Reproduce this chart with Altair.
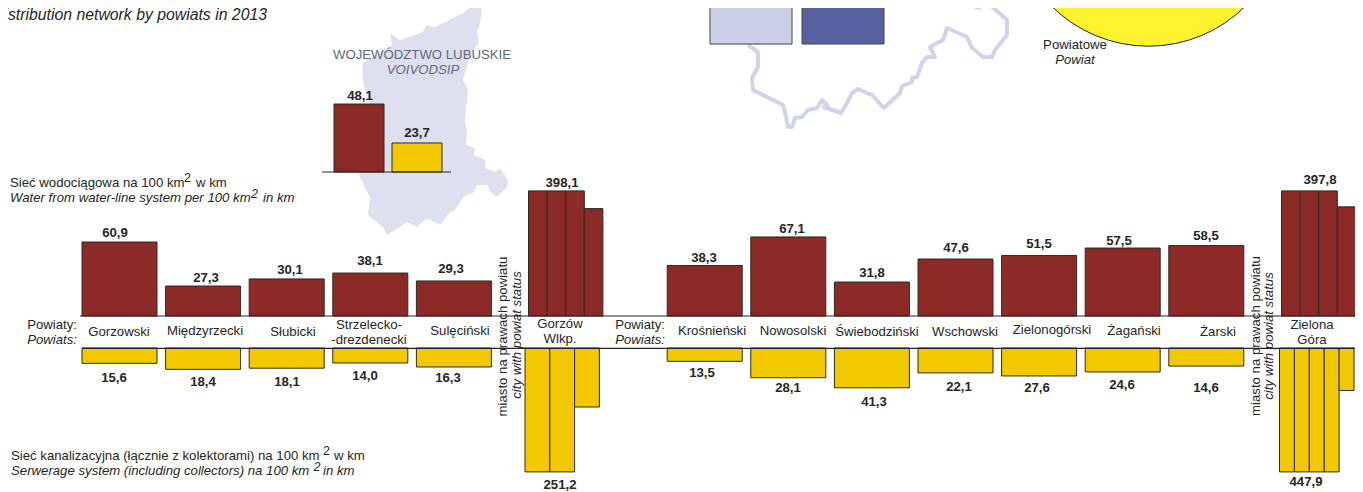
import altair as alt
import pandas as pd

# ---- data ----
districts_left = ["Gorzowski", "Międzyrzecki", "Słubicki", "Strzelecko-\n-drezdenecki", "Sulęciński"]
districts_right = ["Krośnieński", "Nowosolski", "Świebodziński", "Wschowski", "Zielonogórski", "Żagański", "Żarski"]
water_labels = [60.9, 27.3, 30.1, 38.1, 29.3, 38.3, 67.1, 31.8, 47.6, 51.5, 57.5, 58.5]
sewer_labels = [15.6, 18.4, 18.1, 14.0, 16.3, 13.5, 28.1, 41.3, 22.1, 27.6, 24.6, 14.6]
# lengths of the bars as drawn in the picture (the original drawing is not strictly to scale)
water_drawn = [62.7, 25.4, 31.4, 36.4, 29.7, 42.8, 67.0, 28.8, 48.3, 51.3, 57.6, 59.7]
sewer_drawn = [13.0, 18.1, 17.1, 12.7, 16.1, 11.3, 25.2, 33.7, 21.1, 23.7, 20.3, 15.3]
gorzow_water = [106, 106, 106, 91]
zielona_water = [106, 106, 106, 92.5]
gorzow_sewer = [105, 105, 50]
zielona_sewer = [105, 105, 105, 105, 36]
voivodship_labels = [48.1, 23.7]
voivodship_drawn = [57.6, 24.6]

W, H = 1347, 484
OFF = 8
UNIT = 1.18
STEP = 83.6
SLOTS = list(range(5)) + list(range(7, 14))
BAR_W = 75 / STEP

RED = "#8c2a27"
YEL = "#f2c800"
EDGE = "#2e2a22"
TXT = "#262626"
FONT = "Liberation Sans"
SIZE = 13.2

fmt = lambda v: f"{v:.1f}".replace(".", ",")


def slot_scale(origin, step):
    return alt.Scale(domain=[(OFF - origin) / step, (OFF + W - origin) / step], range=[0, W], nice=False, zero=False)


def value_scale(base_y, direction):
    return alt.Scale(domain=[0, 100], range=[base_y - OFF, base_y - OFF + direction * 100 * UNIT], nice=False, zero=False)


def bars(df, xs, ys, color):
    return alt.Chart(df).mark_rect(fill=color, stroke=EDGE, strokeWidth=1).encode(
        x=alt.X("x0:Q", scale=xs, axis=None),
        x2="x1:Q",
        y=alt.Y("v:Q", scale=ys, axis=None),
        y2="b:Q",
    )


def value_labels(df):
    return alt.Chart(df).mark_text(font=FONT, fontSize=SIZE, fontWeight="bold", color=TXT).encode(
        x=alt.X("lx:Q", scale=PX_X, axis=None),
        y=alt.Y("ly:Q", scale=PX_Y, axis=None),
        text="t:N",
    )


def txt(s, x, y, align="left", italic=False, bold=False, size=SIZE, color=TXT, angle=None):
    kw = dict(text=s, font=FONT, fontSize=size, align=align, baseline="middle", color=color)
    if italic:
        kw["fontStyle"] = "italic"
    if bold:
        kw["fontWeight"] = "bold"
    if angle is not None:
        kw["angle"] = angle
    return alt.Chart(alt.Data(values=[{}])).mark_text(**kw).encode(x=alt.value(x - OFF), y=alt.value(y - OFF))


PX_X = alt.Scale(domain=[OFF, OFF + W], range=[0, W], nice=False, zero=False)
PX_Y = alt.Scale(domain=[OFF, OFF + H], range=[0, H], nice=False, zero=False)

# ---- label placement in the picture ----
water_lx = [115, 206, 290, 370, 451, 704, 792, 872, 956, 1039, 1119, 1206]
water_ly = [233, 278, 270, 261, 269, 258, 229, 273, 248, 244, 241, 236]
sewer_lx = [114, 203, 287, 365, 448, 702, 788, 874, 959, 1037, 1122, 1206]
sewer_ly = [378, 382, 382, 376, 378, 373, 388, 402, 387, 388, 385, 388]
district_lx = [119, 205, 293, 369, 460, 712, 793, 877, 965, 1052, 1134, 1218]
district_ly = [332, 331, 332, 325, 331, 331, 331, 332, 332, 330, 331, 332]

water_df = pd.DataFrame({"x0": SLOTS, "x1": [s + BAR_W for s in SLOTS], "v": water_drawn, "b": 0})
sewer_df = pd.DataFrame({"x0": SLOTS, "x1": [s + BAR_W for s in SLOTS], "v": sewer_drawn, "b": 0})


def columns(values, start_px, step_px):
    return pd.DataFrame({
        "x0": [start_px + i * step_px for i in range(len(values))],
        "x1": [start_px + (i + 1) * step_px for i in range(len(values))],
        "v": values, "b": 0})


main_x = slot_scale(82, STEP)
water_y = value_scale(316, -1)
sewer_y = value_scale(348, 1)

wl_df = pd.DataFrame({"lx": water_lx + [562, 1320], "ly": water_ly + [183, 180],
                      "t": [fmt(v) for v in water_labels] + ["398,1", "397,8"]})
sl_df = pd.DataFrame({"lx": sewer_lx + [560, 1306], "ly": sewer_ly + [485, 482],
                      "t": [fmt(v) for v in sewer_labels] + ["251,2", "447,9"]})
vl_df = pd.DataFrame({"lx": [360, 417], "ly": [96, 133], "t": [fmt(v) for v in voivodship_labels]})

name_df = pd.DataFrame({"lx": district_lx + [560, 1312], "ly": district_ly + [324, 325],
                        "t": districts_left + districts_right + ["Gorzów\nWlkp.", "Zielona\nGóra"]})
names = alt.Chart(name_df).mark_text(font=FONT, fontSize=SIZE, color=TXT, lineBreak="\n", lineHeight=15).encode(
    x=alt.X("lx:Q", scale=PX_X, axis=None), y=alt.Y("ly:Q", scale=PX_Y, axis=None), text="t:N")

# ---- voivodship map (background shape) ----
map_outline = [(475,4),(482,9),(480,23),(477,32),(479,42),(470,55),(463,80),(468,90),(467,100),(465,120),(467,133),
               (466,145),(475,148),(474,155),(485,160),(485,168),(495,172),(500,168),(508,180),(507,187),(497,197),
               (490,192),(488,185),(477,185),(474,192),(467,195),(463,198),(455,210),(450,212),(440,225),(427,218),
               (417,227),(407,222),(398,228),(387,235),(383,227),(368,215),(370,198),(365,187),(359,175),(360,150),
               (372,110),(363,83),(363,63),(375,55),(392,45),(390,33),(400,40),(423,32),(426,25),(435,27),(447,21),(463,13)]
path = "M" + " L".join(f"{x} {y}" for x, y in map_outline) + " Z"
map_shape = alt.Chart(alt.Data(values=[{}])).mark_point(
    shape=path, size=4, filled=True, fill="#dfe0ef", strokeWidth=0, opacity=1
).encode(x=alt.value(-OFF), y=alt.value(-OFF))

# ---- border line of the neighbouring map ----
border_x = [748,758,758,752,753,783,786,788,792,795,802,808,817,822,827,824,841,847,852,858,872,884,900,902,912,912,917,922,927,935,930,943,947,967,972,983,992,995,1007,1007,988,978,967,972]
border_y = [45,52,67,78,90,105,117,127,127,118,117,110,108,100,105,107,113,103,93,89,95,108,93,86,82,78,77,63,57,57,47,40,28,37,48,57,57,50,35,20,3,8,3,0]
border_df = pd.DataFrame({"px": border_x, "py": border_y, "i": range(len(border_x))})
border = alt.Chart(border_df).mark_line(color="#cfd4ea", strokeWidth=4, strokeJoin="round").encode(
    x=alt.X("px:Q", scale=PX_X, axis=None), y=alt.Y("py:Q", scale=PX_Y, axis=None), order="i:Q")

# ---- cropped items of the map legend ----
legend_bars = pd.DataFrame({"x0": [710, 802], "x1": [792, 884], "y0": [0, 0], "y1": [44, 44], "c": ["#cbd0e8", "#5861a0"]})
legend_rect = alt.Chart(legend_bars).mark_rect(stroke="#444444", strokeWidth=1).encode(
    x=alt.X("x0:Q", scale=PX_X, axis=None), x2="x1:Q",
    y=alt.Y("y0:Q", scale=PX_Y, axis=None), y2="y1:Q",
    fill=alt.Fill("c:N", scale=None))
circle = alt.Chart(alt.Data(values=[{}])).mark_point(
    shape="circle", size=75300, filled=False, fill="#fff22e", stroke="#222222", strokeWidth=1, opacity=1
).encode(x=alt.value(1148.5 - OFF), y=alt.value(-91 - OFF))


def hline(x0, x1, y, color="#222222", w=1.2):
    return alt.Chart(alt.Data(values=[{}])).mark_rule(color=color, strokeWidth=w).encode(
        x=alt.value(x0 - OFF), x2=alt.value(x1 - OFF), y=alt.value(y - OFF))


vx = slot_scale(334, 58)
vy = value_scale(172, -1)
v_df = pd.DataFrame({"x0": [0, 1], "x1": [50 / 58, 1 + 50 / 58], "v": voivodship_drawn, "b": 0})

gx = PX_X
SUP = 12.5
layers = [
    map_shape, border, legend_rect, circle,
    txt("Powiatowe", 1075, 45, "center"), txt("Powiat", 1075, 60, "center", italic=True),
    txt("distribution network by powiats in 2013", 267, 15, "right", italic=True, size=15.8),
    txt("WOJEWÓDZTWO LUBUSKIE", 422, 55, "center", color="#5b6a7f"),
    txt("VOIVODSIP", 423, 70, "center", italic=True, color="#5b6a7f"),
    bars(v_df[v_df.x0 == 0], vx, vy, RED), bars(v_df[v_df.x0 == 1], vx, vy, YEL),
    hline(322, 451, 172, w=1),
    value_labels(vl_df),
    bars(water_df, main_x, water_y, RED),
    bars(sewer_df, main_x, sewer_y, YEL),
    bars(columns(gorzow_water, 528.5, 18.6), gx, water_y, RED),
    bars(columns(zielona_water, 1281.5, 18.6), gx, water_y, RED),
    bars(columns(gorzow_sewer, 525, 24.8), gx, sewer_y, YEL),
    bars(columns(zielona_sewer, 1279.5, 14.9), gx, sewer_y, YEL),
    hline(80, 1360, 316), hline(82, 1363, 348.3),
    value_labels(wl_df), value_labels(sl_df),
    names,
    txt("Powiaty:", 77, 325, "right"), txt("Powiats:", 77, 340, "right", italic=True),
    txt("Powiaty:", 665, 325, "right"), txt("Powiats:", 665, 340, "right", italic=True),
    txt("miasto na prawach powiatu", 503, 336.5, "center", angle=270),
    txt("city with powiat status", 517, 335, "center", italic=True, angle=270),
    txt("miasto na prawach powiatu", 1256, 336, "center", angle=270),
    txt("city with powiat status", 1269, 336, "center", italic=True, angle=270),
    txt("Sieć wodociągowa na 100 km", 10, 183),
    txt("2", 184, 178, size=SUP), txt("w km", 196, 183),
    txt("Water from water-line system per 100 km", 10, 198, italic=True),
    txt("2", 251, 194, italic=True, size=SUP), txt("in km", 263, 198, italic=True),
    txt("Sieć kanalizacyjna (łącznie z kolektorami) na 100 km", 11, 456),
    txt("2", 323, 451, size=SUP), txt("w km", 334, 456),
    txt("Serwerage system (including collectors) na 100 km", 11, 471, italic=True),
    txt("2", 313.5, 467, italic=True, size=SUP), txt("in km", 323, 471, italic=True),
]

chart = alt.layer(*layers).resolve_scale(x="independent", y="independent", color="independent").properties(
    width=W, height=H, padding=0, autosize=alt.AutoSizeParams(type="none"), background="white"
).configure_view(stroke=None)

chart.save("out.html", embed_options={"renderer": "svg", "actions": False})
